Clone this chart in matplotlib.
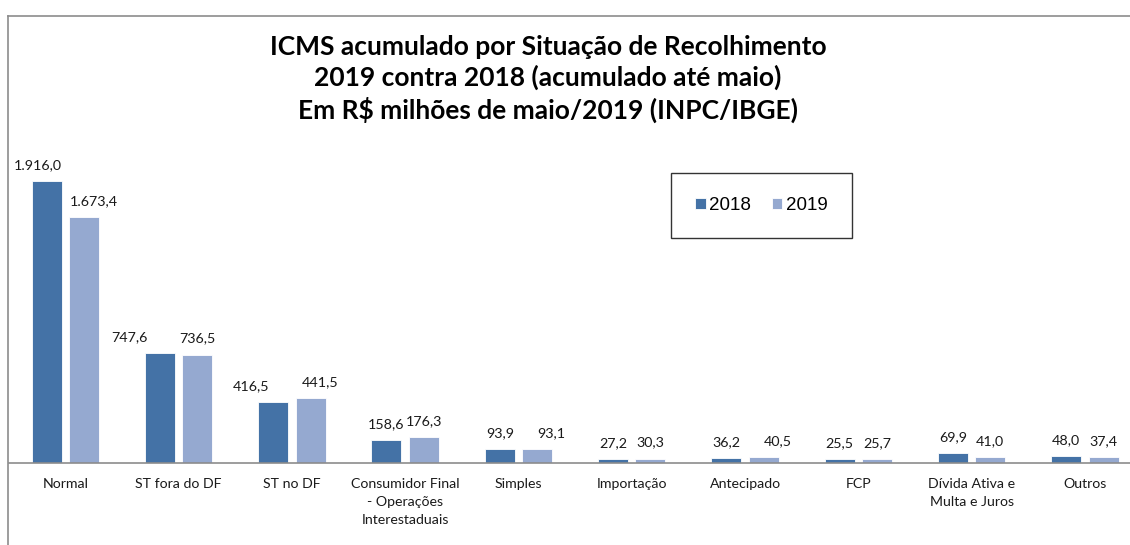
import matplotlib
matplotlib.use("Agg")
import matplotlib.pyplot as plt
from matplotlib.lines import Line2D
import numpy as np

categories = [
    "Normal", "ST fora do DF", "ST no DF",
    "Consumidor Final\n- Operações\nInterestaduais",
    "Simples", "Importação", "Antecipado", "FCP",
    "Dívida Ativa e\nMulta e Juros", "Outros",
]
vals_2018 = [1916.0, 747.6, 416.5, 158.6, 93.9, 27.2, 36.2, 25.5, 69.9, 48.0]
vals_2019 = [1673.4, 736.5, 441.5, 176.3, 93.1, 30.3, 40.5, 25.7, 41.0, 37.4]
series = ["2018", "2019"]

# labels were hand-moved in the original (pixel nudges)
nudge_2018 = [-9, -30, -22, 0, 0, 0, 0, 0, 0, 0]
nudge_2019 = [10, 0, 10, 0, 14, 0, 14, 0, 0, 0]

C18 = "#4472a6"
C19 = "#95a9d0"
FRAME = "#8c8c8c"
TXT = "#1a1a1a"
FONT = "Lato"


def fmt(v):
    s = f"{v:,.1f}"
    return s.replace(",", "X").replace(".", ",").replace("X", ".")


W, H = 1130, 545
fig = plt.figure(figsize=(W / 100, H / 100), dpi=100)
fig.patch.set_facecolor("white")

ax = fig.add_axes([8.6 / W, (H - 463) / H, (W - 8.6) / W, 447 / H])
x = np.arange(len(categories))
bw = 0.265
off = 0.165
b1 = ax.bar(x - off, vals_2018, bw, color=C18, edgecolor="white", linewidth=0.6, label=series[0])
b2 = ax.bar(x + off, vals_2019, bw, color=C19, edgecolor="white", linewidth=0.6, label=series[1])

for bars, vals, nud in ((b1, vals_2018, nudge_2018), (b2, vals_2019, nudge_2019)):
    for b, v, n in zip(bars, vals, nud):
        ax.annotate(fmt(v), (b.get_x() + b.get_width() / 2, v),
                    xytext=(n * 0.72, 11.5), textcoords="offset points",
                    ha="center", va="center", fontsize=10.3, family=FONT, color=TXT)

ax.set_xlim(-0.5, -0.5 + (W - 8.6) / 113.3)
ax.set_ylim(0, 447 / 0.1472)
ax.set_xticks(x)
ax.set_xticklabels(categories, fontsize=10.2, family=FONT, color=TXT, linespacing=1.6, va="top")
ax.tick_params(axis="x", length=0, pad=11)
ax.set_yticks([])
for s in ("top", "left", "right"):
    ax.spines[s].set_visible(False)
ax.spines["bottom"].set_color(FRAME)
ax.spines["bottom"].set_linewidth(1.2)

leg = ax.legend(loc="center", bbox_to_anchor=(761.5 / W, 1 - 205.5 / H),
                bbox_transform=fig.transFigure, ncol=2, frameon=True, fancybox=False,
                prop={"family": "Liberation Sans", "size": 13.5},
                handlelength=0.55, handleheight=0.55, handletextpad=0.2,
                columnspacing=1.1, borderpad=1.3)
leg.get_frame().set_edgecolor("black")
leg.get_frame().set_linewidth(1.0)

title = ("ICMS acumulado por Situação de Recolhimento\n"
         "2019 contra 2018 (acumulado até maio)\n"
         "Em R$ milhões de maio/2019 (INPC/IBGE)")
fig.text(548 / W, 1 - 79 / H, title, ha="center", va="center", fontsize=19,
         fontweight="bold", family=FONT, color="black", linespacing=1.3)

# outer chart frame (only top and left edges are visible in the crop)
fig.add_artist(Line2D([8 / W, 1], [1 - 16 / H, 1 - 16 / H], transform=fig.transFigure, color=FRAME, lw=1.2))
fig.add_artist(Line2D([8 / W, 8 / W], [0, 1 - 16 / H], transform=fig.transFigure, color=FRAME, lw=1.2))

fig.savefig("out.png", dpi=100, facecolor="white")
